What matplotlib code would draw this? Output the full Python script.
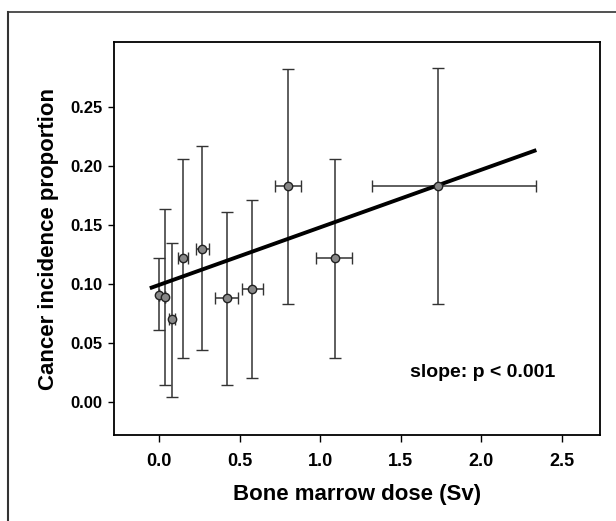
import numpy as np
import matplotlib.pyplot as plt
from matplotlib.lines import Line2D

plt.rcParams['font.family'] = ['Liberation Sans', 'DejaVu Sans']
plt.rcParams['font.weight'] = 'bold'

# dose (Sv) with lower/upper limits
dose = [0.00, 0.04, 0.08, 0.15, 0.27, 0.42, 0.58, 0.80, 1.09, 1.73]
dose_lo = [0.00, 0.04, 0.06, 0.12, 0.23, 0.35, 0.517, 0.72, 0.975, 1.32]
dose_hi = [0.00, 0.04, 0.10, 0.18, 0.31, 0.49, 0.643, 0.88, 1.20, 2.34]
# cancer incidence proportion with lower/upper limits
prop = [0.091, 0.089, 0.070, 0.122, 0.130, 0.088, 0.096, 0.183, 0.122, 0.183]
prop_lo = [0.061, 0.014, 0.004, 0.037, 0.044, 0.014, 0.020, 0.083, 0.037, 0.083]
prop_hi = [0.122, 0.164, 0.135, 0.206, 0.217, 0.161, 0.171, 0.282, 0.206, 0.283]

# fitted line endpoints
fit_x = [-0.045, 2.33]
fit_y = [0.097, 0.213]

fig = plt.figure(figsize=(6.16, 5.21), dpi=100)
ax = fig.add_axes([0.185, 0.165, 0.789, 0.754])

d = np.array(dose)
p = np.array(prop)
xerr = [d - np.array(dose_lo), np.array(dose_hi) - d]
yerr = [p - np.array(prop_lo), np.array(prop_hi) - p]
ax.errorbar(dose, prop, yerr=yerr, xerr=xerr, fmt='o', color='#333333',
            ecolor='#333333', elinewidth=1.1, capsize=4, capthick=1.1,
            markersize=6, markerfacecolor='#888888', markeredgecolor='#222222',
            markeredgewidth=1.0)
ax.plot(fit_x, fit_y, color='black', linewidth=2.8)

ax.set_xlim(-0.279, 2.736)
ax.set_ylim(-0.028, 0.305)
ax.set_xticks([0.0, 0.5, 1.0, 1.5, 2.0, 2.5])
ax.set_yticks([0.00, 0.05, 0.10, 0.15, 0.20, 0.25])
ax.xaxis.set_major_formatter(plt.FormatStrFormatter('%.1f'))
ax.yaxis.set_major_formatter(plt.FormatStrFormatter('%.2f'))
ax.tick_params(axis='x', labelsize=13, length=5, width=1, pad=8)
ax.tick_params(axis='y', labelsize=12, length=4, width=1, pad=4)
for s in ax.spines.values():
    s.set_linewidth(1.3)

ax.set_xlabel('Bone marrow dose (Sv)', fontsize=16, fontweight='bold', labelpad=10)
ax.set_ylabel('Cancer incidence proportion', fontsize=16, fontweight='bold', labelpad=8)
ax.text(0.907, 0.158, 'slope: p < 0.001', transform=ax.transAxes, ha='right',
        va='center', fontsize=14, fontweight='bold')

# outer frame (left and top edges)
fig.add_artist(Line2D([8 / 616, 8 / 616], [0, 1 - 12 / 521], transform=fig.transFigure,
                      color='#333333', linewidth=1.5))
fig.add_artist(Line2D([8 / 616, 1], [1 - 12 / 521, 1 - 12 / 521], transform=fig.transFigure,
                      color='#333333', linewidth=1.2))

fig.savefig('out.png', dpi=100)
